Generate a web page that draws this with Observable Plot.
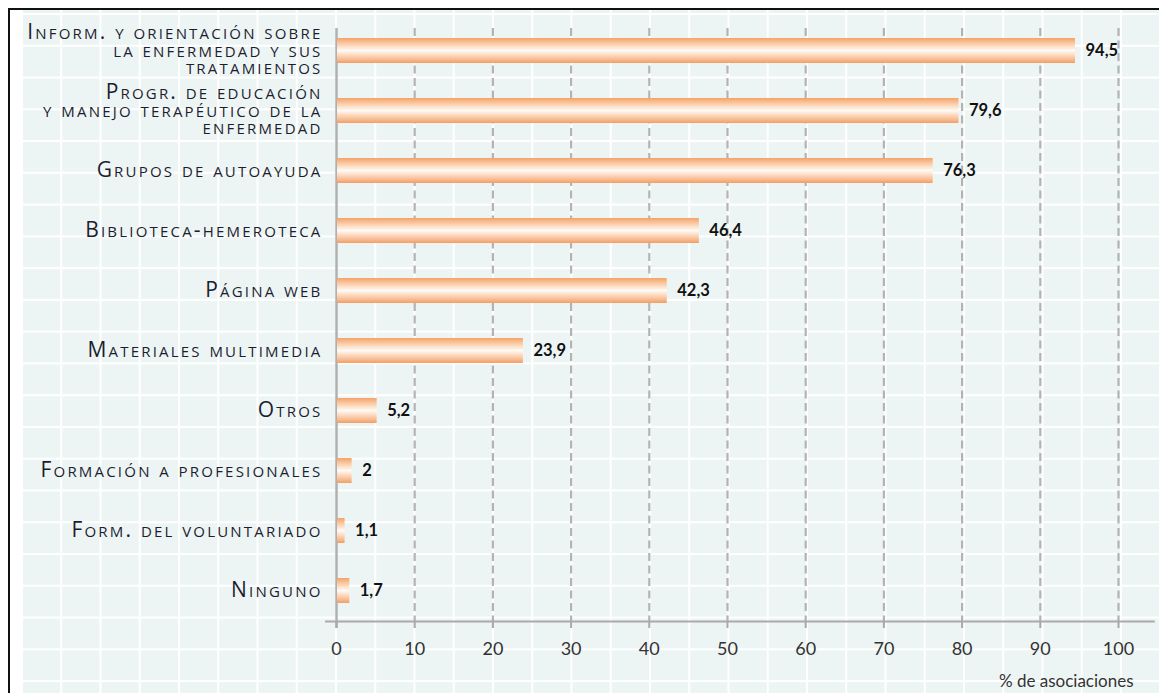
<!DOCTYPE html>
<html><head><meta charset="utf-8">
<script src="https://cdn.jsdelivr.net/npm/d3@7"></script>
<script src="https://cdn.jsdelivr.net/npm/@observablehq/plot@0.6"></script>
<style>
body{margin:0;background:#fff;width:1159px;height:693px;overflow:hidden;position:relative;font-family:Lato,sans-serif}
#frame{position:absolute;left:8px;top:8px;right:0;bottom:0;border-left:2px solid #111;border-top:2.5px solid #111}
#bg{position:absolute;left:11px;top:0;right:0;bottom:0;background-color:#edf5f4;background-image:linear-gradient(to right,#fff 0,#fff 2px,transparent 2px),linear-gradient(to bottom,#fff 0,#fff 2px,transparent 2px);background-size:39.25px 31.77px;background-position:0 3px}
#chart{position:absolute;left:0;top:0}
#chart g[aria-label="y-axis tick label"] text{font-family:"Open Sans",sans-serif;font-variant:small-caps;letter-spacing:2.2px}
</style>
</head><body>
<div id="frame"><div id="bg"></div></div>
<div id="chart"></div>
<script>
const categories = [
  "Inform. y orientación sobre\nla enfermedad y sus\ntratamientos",
  "Progr. de educación\ny manejo terapéutico de la\nenfermedad",
  "Grupos de autoayuda",
  "Biblioteca-hemeroteca",
  "Página web",
  "Materiales multimedia",
  "Otros",
  "Formación a profesionales",
  "Form. del voluntariado",
  "Ninguno"
];
const values = [94.5, 79.6, 76.3, 46.4, 42.3, 23.9, 5.2, 2, 1.1, 1.7];
const xTicks = [0, 10, 20, 30, 40, 50, 60, 70, 80, 90, 100];
const gridTicks = [10, 20, 30, 40, 50, 60, 70, 80, 90, 100];
const axisTitle = "% de asociaciones";

const data = categories.map((c, i) => ({category: c, value: values[i]}));

const chart = Plot.plot({
  width: 1159, height: 693,
  marginLeft: 336, marginRight: 41, marginTop: 28, marginBottom: 72,
  style: {background: "transparent", fontFamily: "Lato, sans-serif", overflow: "visible"},
  x: {domain: [0, 100]},
  y: {domain: categories, paddingInner: 0.583, paddingOuter: 0.233, align: 0.36},
  marks: [
    Plot.ruleX(gridTicks, {stroke: "#b3b3b3", strokeWidth: 2.2, strokeDasharray: "8,4.5"}),
    Plot.ruleX([0], {stroke: "#b0b0b0", strokeWidth: 2.5, insetBottom: -7}),
    Plot.ruleY([categories[categories.length - 1]], {x1: -1.4, x2: 104.7, dy: 30.5, stroke: "#aaa", strokeWidth: 2}),
    Plot.barX(data, {x: "value", y: "category", fill: "url(#barGrad)", insetLeft: 1}),
    Plot.text(data, {x: "value", y: "category", text: d => String(d.value).replace(".", ","), dx: 10, textAnchor: "start", fontWeight: "bold", fontSize: 16.5, fill: "#111"}),
    Plot.axisY({tickSize: 0, tickPadding: 14, fontSize: 21, lineHeight: 0.84, fill: "#1d1d30", label: null}),
    Plot.axisX({ticks: xTicks, tickSize: 7, tickPadding: 14, fontSize: 18, stroke: "#a8a8a8", strokeWidth: 2, fill: "#333", label: null}),
    Plot.text([axisTitle], {frameAnchor: "bottom-right", dx: 15, dy: 65, textAnchor: "end", fontSize: 17, fill: "#333"})
  ]
});

const svg = d3.select(chart);
const grad = svg.insert("defs", ":first-child").append("linearGradient")
  .attr("id", "barGrad").attr("x1", 0).attr("y1", 0).attr("x2", 0).attr("y2", 1);
[[0, "#f4a267"], [0.2, "#fac7a0"], [0.5, "#fffaf4"], [0.8, "#fac5a0"], [1, "#f29f64"]]
  .forEach(([o, c]) => grad.append("stop").attr("offset", o).attr("stop-color", c));

document.getElementById("chart").appendChild(chart);
</script>
</body></html>
